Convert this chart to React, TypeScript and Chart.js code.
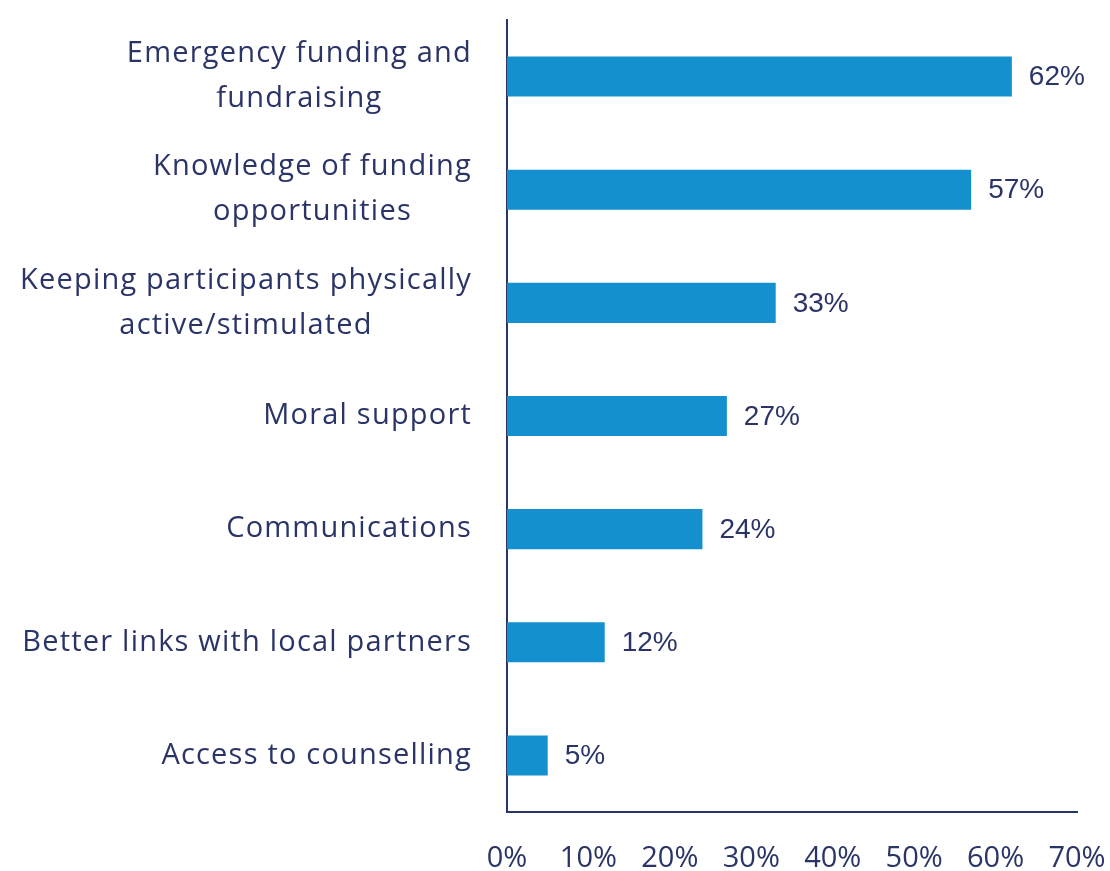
import React, { useEffect, useRef } from "react";
import { Chart, registerables } from "chart.js";

Chart.register(...registerables);

const categories: string[][] = [
  ["Emergency funding and", "fundraising"],
  ["Knowledge of funding", "opportunities"],
  ["Keeping participants physically", "active/stimulated"],
  ["Moral support"],
  ["Communications"],
  ["Better links with local partners"],
  ["Access to counselling"],
];
const values: number[] = [62, 57, 33, 27, 24, 12, 5];
const xMin = 0;
const xMax = 70;
const xStep = 10;

const NAVY = "#2b3467";
const BLUE = "#1490cf";
const LABEL_FONT = "'Open Sans', sans-serif";
const VALUE_FONT = "'Liberation Sans', Arial, sans-serif";

const categoryLabelPlugin = {
  id: "categoryLabels",
  afterDraw(chart: any) {
    const { ctx } = chart;
    const yScale = chart.scales.y;
    ctx.save();
    ctx.font = `400 29px ${LABEL_FONT}`;
    try {
      (ctx as any).letterSpacing = "1.2px";
    } catch (e) {}
    ctx.fillStyle = NAVY;
    ctx.textAlign = "center";
    ctx.textBaseline = "middle";
    const lineH = 45;
    const right = chart.chartArea.left - 35;
    categories.forEach((lines, i) => {
      const cy = yScale.getPixelForTick(i);
      const w = Math.max(...lines.map((l) => ctx.measureText(l).width));
      const cx = right - w / 2;
      const start = cy - ((lines.length - 1) * lineH) / 2;
      lines.forEach((l, j) => ctx.fillText(l, cx, start + j * lineH));
    });
    ctx.restore();
  },
};

const valueLabelPlugin = {
  id: "valueLabels",
  afterDatasetsDraw(chart: any) {
    const { ctx } = chart;
    const meta = chart.getDatasetMeta(0);
    ctx.save();
    ctx.font = `400 28px ${VALUE_FONT}`;
    ctx.fillStyle = NAVY;
    ctx.textAlign = "left";
    ctx.textBaseline = "middle";
    meta.data.forEach((bar: any, i: number) => {
      ctx.fillText(`${values[i]}%`, bar.x + 17, bar.y + 1);
    });
    ctx.restore();
  },
};

export default function App() {
  const ref = useRef<HTMLCanvasElement | null>(null);
  useEffect(() => {
    if (!ref.current) return;
    const chart = new Chart(ref.current, {
      type: "bar",
      data: {
        labels: categories.map((c) => c.join(" ")),
        datasets: [
          {
            data: values,
            backgroundColor: BLUE,
            borderWidth: 0,
            barPercentage: 0.354,
            categoryPercentage: 1,
          },
        ],
      },
      options: {
        indexAxis: "y",
        animation: false,
        responsive: true,
        maintainAspectRatio: false,
        layout: { padding: { top: 20, right: 33, left: 0, bottom: 0 } },
        plugins: {
          legend: { display: false },
          tooltip: { enabled: false },
        },
        scales: {
          x: {
            min: xMin,
            max: xMax,
            grid: { display: false, drawTicks: false },
            border: { display: true, color: NAVY, width: 2 },
            ticks: {
              stepSize: xStep,
              padding: 29,
              color: NAVY,
              font: { family: LABEL_FONT, size: 29, lineHeight: 1.2 },
              callback: (v: any) => `${v}%`,
            },
            afterFit: (s: any) => {
              s.height = 59;
              s.paddingLeft = 0;
              s.paddingRight = 0;
            },
          },
          y: {
            grid: { display: false, drawTicks: false },
            border: { display: true, color: NAVY, width: 2 },
            ticks: { display: false },
            afterFit: (s: any) => {
              s.width = 507;
              s.paddingTop = 0;
              s.paddingBottom = 0;
            },
          },
        },
      },
      plugins: [categoryLabelPlugin, valueLabelPlugin],
    });
    return () => chart.destroy();
  }, []);
  return (
    <div style={{ position: "absolute", left: 0, top: 0, width: 1110, height: 871 }}>
      <canvas ref={ref} />
    </div>
  );
}
